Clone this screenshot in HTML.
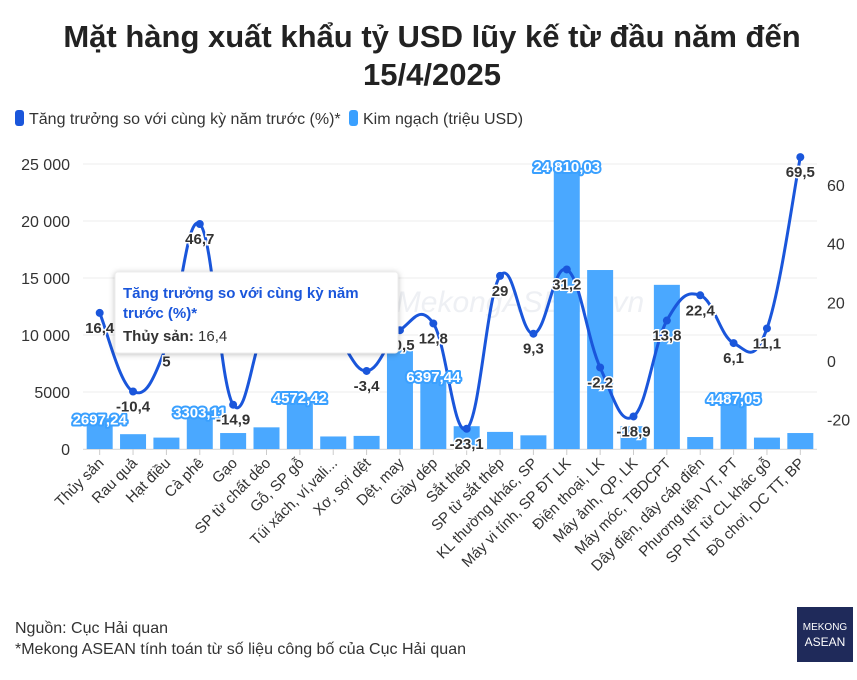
<!DOCTYPE html>
<html><head><meta charset="utf-8">
<style>
body{margin:0;background:#fff;width:857px;height:675px;overflow:hidden;font-family:"Liberation Sans",sans-serif;}
svg text{font-family:"Liberation Sans",sans-serif;}
</style></head>
<body>
<svg id="chart" width="857" height="675" xmlns="http://www.w3.org/2000/svg">
<text x="432" y="47" text-anchor="middle" font-size="31" font-weight="bold" fill="#222">Mặt hàng xuất khẩu tỷ USD lũy kế từ đầu năm đến</text>
<text x="432" y="85" text-anchor="middle" font-size="31" font-weight="bold" fill="#222">15/4/2025</text>
<g><rect x="15" y="110" width="9" height="16" rx="3" fill="#1a56db"/><text x="29" y="124" font-size="16" fill="#333">Tăng trưởng so với cùng kỳ năm trước (%)*</text></g>
<g><rect x="349" y="110" width="9" height="16" rx="3" fill="#3aa0ff"/><text x="363" y="124" font-size="16" fill="#333">Kim ngạch (triệu USD)</text></g>
<text x="520" y="312" text-anchor="middle" font-size="30" font-style="italic" fill="#eef0f4">MekongASEAN.vn</text>
<g id="grid"></g><g id="bars"></g><g id="line"></g><g id="labels"></g>
<g>
<rect x="115" y="272" width="283" height="81" rx="3" fill="#fff" stroke="#eee" style="filter:drop-shadow(0 1px 3px rgba(0,0,0,.25))"/>
<text x="123" y="298" font-size="15" font-weight="bold" fill="#1a56db">Tăng trưởng so với cùng kỳ năm</text>
<text x="123" y="318" font-size="15" font-weight="bold" fill="#1a56db">trước (%)*</text>
<text x="123" y="341" font-size="15" fill="#333"><tspan font-weight="bold">Thủy sản:</tspan> 16,4</text>
</g>
<text x="15" y="633" font-size="16" fill="#333">Nguồn: Cục Hải quan</text>
<text x="15" y="654" font-size="16" fill="#333">*Mekong ASEAN tính toán từ số liệu công bố của Cục Hải quan</text>
<g><rect x="797" y="607" width="56" height="55" fill="#1f2a5a"/>
<text x="825" y="630" text-anchor="middle" font-size="10" font-family="Liberation Serif" fill="#fff">MEKONG</text>
<text x="825" y="646" text-anchor="middle" font-size="12" font-family="Liberation Serif" fill="#fff">ASEAN</text></g>
</svg>
<script>
const categories=["Thủy sản","Rau quả","Hạt điều","Cà phê","Gạo","SP từ chất dẻo","Gỗ, SP gỗ","Túi xách, ví,vali...","Xơ, sợi dệt","Dệt, may","Giày dép","Sắt thép","SP từ sắt thép","KL thường khác, SP","Máy vi tính, SP ĐT LK","Điện thoại, LK","Máy ảnh, QP, LK","Máy móc, TBDCPT","Dây điện, dây cáp điện","Phương tiện VT, PT","SP NT từ CL khác gỗ","Đồ chơi, DC TT, BP"];
const values=[2697.24,1300,1000,3303.11,1400,1900,4572.42,1100,1150,8700,6397.44,2000,1500,1200,24810.03,15700,2000,14400,1050,4487.05,1000,1400];
const growth=[16.4,-10.4,5,46.7,-14.9,12,8,9,-3.4,10.5,12.8,-23.1,29,9.3,31.2,-2.2,-18.9,13.8,22.4,6.1,11.1,69.5];
const valueLabels=["2697,24",null,null,"3303,11",null,null,"4572,42",null,null,null,"6397,44",null,null,null,"24 810,03",null,null,null,null,"4487,05",null,null];
const growthLabels=["16,4","-10,4","5","46,7","-14,9",null,null,null,"-3,4","10,5","12,8","-23,1","29","9,3","31,2","-2,2","-18,9","13,8","22,4","6,1","11,1","69,5"];
const leftTicks=[0,5000,10000,15000,20000,25000];
const rightTicks=[-20,0,20,40,60];
const NS="http://www.w3.org/2000/svg";
const x0=83,x1=817,yb=449;
const bw=(x1-x0)/categories.length;
const xc=i=>x0+bw*(i+0.5);
const yL=v=>yb-v*(285/25000);
const yR=v=>361-v*(176/60);
function mk(t,a,p){const e=document.createElementNS(NS,t);for(const k in a)e.setAttribute(k,a[k]);p.appendChild(e);return e;}
const grid=document.getElementById('grid');
leftTicks.forEach(t=>{
 const l=mk('line',{x1:x0,x2:x1,y1:yL(t),y2:yL(t),stroke:'#eeeeee'},grid);
 
 
 const tx=mk('text',{x:70,y:yL(t)+6,'text-anchor':'end','font-size':16,fill:'#333'},grid);
 tx.textContent=t===0?'0':(t>=10000?String(t).replace(/(\d+)(\d{3})$/,'$1 $2'):String(t));
 
 
});
rightTicks.forEach(t=>{
 const tx=mk('text',{x:827,y:yR(t)+6,'font-size':16,fill:'#333'},grid);
 tx.textContent=String(t);
 
 
});
mk('line',{x1:x0,x2:x1,y1:yb+0.5,y2:yb+0.5,stroke:'#ddd'},grid);
const bars=document.getElementById('bars'),labels=document.getElementById('labels');
categories.forEach((c,i)=>{
 const r=mk('rect',{x:xc(i)-13,y:yL(values[i]),width:26,height:yb-yL(values[i]),fill:'#4aa8ff'},bars);
 
 
 mk('line',{x1:xc(i),x2:xc(i),y1:yb,y2:yb+6,stroke:'#ccc'},grid);
 const t=mk('text',{x:xc(i)+5,y:yb+15,'text-anchor':'end','font-size':15,fill:'#333',transform:`rotate(-45 ${xc(i)+5} ${yb+15})`},labels);
 t.textContent=c;
 
 
});
const line=document.getElementById('line');
const pts=growth.map((g,i)=>[xc(i),yR(g)]);
let d=`M${pts[0][0]},${pts[0][1]}`;
for(let i=0;i<pts.length-1;i++){
 const p0=pts[Math.max(0,i-1)],p1=pts[i],p2=pts[i+1],p3=pts[Math.min(pts.length-1,i+2)];
 const k=1/5;
 d+=` C${p1[0]+(p2[0]-p0[0])*k},${p1[1]+(p2[1]-p0[1])*k} ${p2[0]-(p3[0]-p1[0])*k},${p2[1]-(p3[1]-p1[1])*k} ${p2[0]},${p2[1]}`;
}
const pth=mk('path',{d:d,fill:'none',stroke:'#1a56db','stroke-width':3},line);


pts.forEach((p,i)=>{
 const c=mk('circle',{cx:p[0],cy:p[1],r:4,fill:'#1a56db'},line);
 
 
});
values.forEach((v,i)=>{
 if(!valueLabels[i])return;
 const t=mk('text',{x:xc(i),y:yL(v)+6,'text-anchor':'middle','font-size':15,'font-weight':'bold',fill:'#fff',stroke:'#3aa0ff','stroke-width':4,'paint-order':'stroke','stroke-linejoin':'round'},labels);
 t.textContent=valueLabels[i];
 
 
});
growth.forEach((g,i)=>{
 if(!growthLabels[i])return;
 const t=mk('text',{x:xc(i),y:yR(g)+20,'text-anchor':'middle','font-size':15,'font-weight':'bold',fill:'#333',stroke:'#fff','stroke-width':3,'paint-order':'stroke'},labels);
 t.textContent=growthLabels[i];
 
 
});
</script>
</body></html>
